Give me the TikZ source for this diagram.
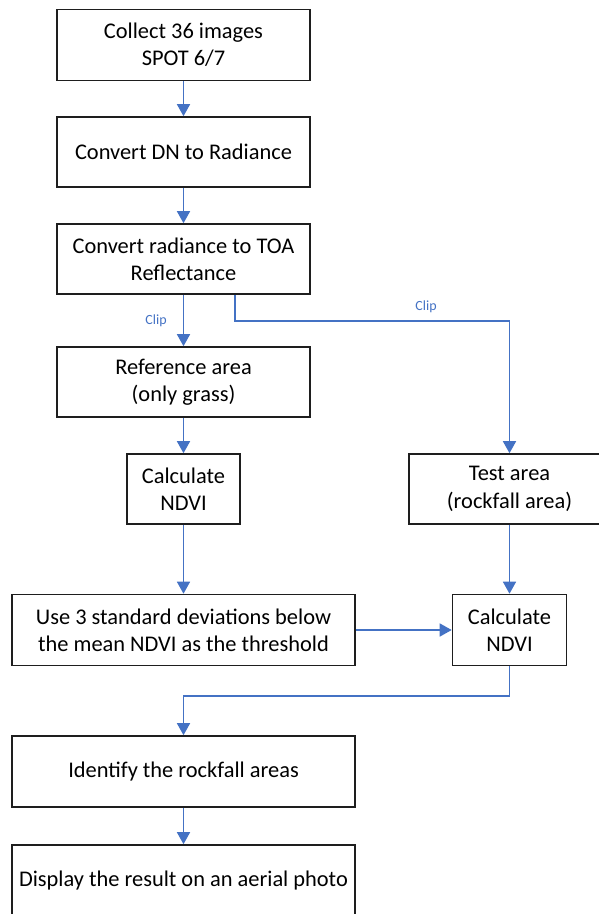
\documentclass[tikz,border=0pt]{standalone}
\usepackage{fontspec}
\setmainfont{Carlito}
\usetikzlibrary{arrows.meta}
\definecolor{flowblue}{RGB}{68,114,196}
\definecolor{boxline}{RGB}{30,30,30}
\tikzset{
  box/.style={draw=boxline, line width=1.6pt, fill=white, inner sep=0pt, align=center,
    font=\fontsize{22.4}{27.3}\selectfont, text=black},
  arr/.style={draw=flowblue, line width=1.5pt, -{Triangle[length=12pt,width=13pt]}},
  cliplabel/.style={text=flowblue, font=\fontsize{14}{16}\selectfont, inner sep=0pt}
}
\begin{document}
\begin{tikzpicture}[x=1pt,y=-1pt]
\useasboundingbox (0,0) rectangle (598,914);
\node[box, minimum width=253pt, minimum height=71pt] (b1) at (183.5,45) {Collect 36 images\\SPOT 6/7};
\node[box, minimum width=253pt, minimum height=70pt] (b2) at (183.5,152) {Convert DN to Radiance};
\node[box, minimum width=253pt, minimum height=70pt] (b3) at (183.5,259) {Convert radiance to TOA\\Reflectance};
\node[box, minimum width=253pt, minimum height=70pt] (b4) at (183.5,382) {Reference area\\(only grass)};
\node[box, minimum width=113pt, minimum height=70pt] (b5) at (183.5,489) {Calculate\\NDVI};
\node[box, minimum width=201pt, minimum height=70pt] (b6) at (509.5,489) {Test area\\(rockfall area)};
\node[box, minimum width=343pt, minimum height=71pt] (b7) at (183.5,630) {Use 3 standard deviations below\\the mean NDVI as the threshold};
\node[box, minimum width=114pt, minimum height=71pt] (b8) at (509.5,630) {Calculate\\NDVI};
\node[box, minimum width=343pt, minimum height=71pt] (b9) at (183.5,771.5) {Identify the rockfall areas};
\node[box, minimum width=343pt, minimum height=71pt] (b10) at (183.5,880.5) {Display the result on an aerial photo};
\coordinate (c1) at (235,321);
\coordinate (c2) at (183.5,696);
\node[cliplabel] (l1) at (156,321) {Clip};
\node[cliplabel] (l2) at (426,307) {Clip};
\draw[arr] (b1.south) -- (b2.north);
\draw[arr] (b2.south) -- (b3.north);
\draw[arr] (b3.south) -- (b4.north);
\draw[arr] (b3.south -| c1) -- (c1) -| (b6.north);
\draw[arr] (b4.south) -- (b5.north);
\draw[arr] (b5.south) -- (b7.north);
\draw[arr] (b6.south) -- (b8.north);
\draw[arr] (b7.east) -- (b8.west);
\draw[arr] (b8.south) |- (c2) -- (b9.north);
\draw[arr] (b9.south) -- (b10.north);
\end{tikzpicture}
\end{document}
